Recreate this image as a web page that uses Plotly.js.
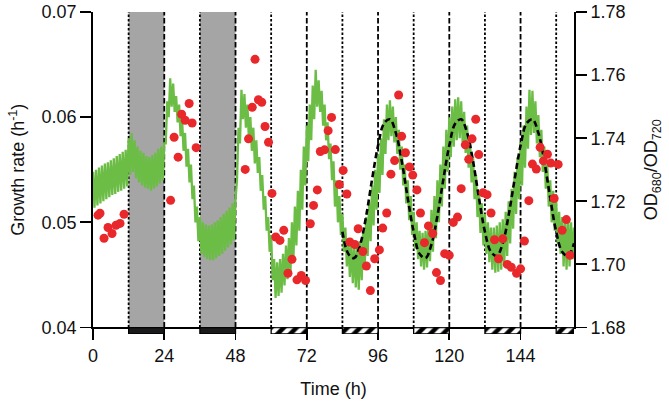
<!DOCTYPE html>
<html>
<head>
<meta charset="utf-8">
<script src="https://cdn.plot.ly/plotly-3.0.1.min.js"></script>
<style>html,body{margin:0;padding:0;background:#fff;}#chart{width:669px;height:404px;}</style>
</head>
<body>
<div id="chart"></div>
<script>
// ---- Data ----
// Growth rate trace (h^-1): upper values at whole hours, lower values at half hours (t = 0..162)
const growthHi = [
0.0548,0.0550,0.0552,0.0554,0.0556,0.0557,0.0559,0.0561,0.0563,0.0565,0.0567,0.0569,
0.0580,0.0585,0.0578,0.0572,0.0568,0.0566,0.0563,0.0562,0.0564,0.0566,0.0570,0.0572,
0.0575,0.0615,0.0637,0.0632,0.0620,0.0612,0.0598,0.0585,0.0570,0.0555,0.0535,0.0515,
0.0505,0.0500,0.0498,0.0497,0.0498,0.0500,0.0502,0.0505,0.0508,0.0511,0.0514,0.0518,
0.0522,0.0590,0.0626,0.0622,0.0612,0.0600,0.0590,0.0578,0.0562,0.0545,0.0525,0.0505,
0.0488,0.0465,0.0462,0.0465,0.0470,0.0478,0.0485,0.0500,0.0515,0.0530,0.0550,0.0572,
0.0592,0.0612,0.0630,0.0645,0.0635,0.0625,0.0612,0.0595,0.0575,0.0558,0.0540,0.0525,
0.0508,0.0495,0.0485,0.0480,0.0478,0.0478,0.0482,0.0492,0.0505,0.0520,0.0535,0.0550,
0.0565,0.0580,0.0598,0.0612,0.0616,0.0610,0.0600,0.0588,0.0572,0.0555,0.0540,0.0525,
0.0510,0.0500,0.0492,0.0490,0.0492,0.0500,0.0512,0.0525,0.0540,0.0555,0.0572,0.0588,
0.0600,0.0610,0.0617,0.0619,0.0615,0.0605,0.0592,0.0578,0.0562,0.0545,0.0530,0.0518,
0.0508,0.0500,0.0495,0.0495,0.0497,0.0500,0.0503,0.0510,0.0520,0.0532,0.0548,0.0562,
0.0576,0.0592,0.0610,0.0626,0.0625,0.0615,0.0602,0.0588,0.0572,0.0555,0.0540,0.0530,
0.0520,0.0510,0.0505,0.0503,0.0505,0.0500,0.0495
];
const growthLo = [
0.0514,0.0516,0.0518,0.0520,0.0522,0.0524,0.0526,0.0527,0.0529,0.0530,0.0532,0.0534,
0.0545,0.0548,0.0542,0.0538,0.0535,0.0533,0.0532,0.0530,0.0532,0.0534,0.0537,0.0540,
0.0575,0.0600,0.0610,0.0605,0.0595,0.0582,0.0568,0.0553,0.0538,0.0522,0.0500,0.0482,
0.0470,0.0467,0.0465,0.0464,0.0464,0.0466,0.0468,0.0470,0.0473,0.0476,0.0479,0.0483,
0.0540,0.0575,0.0598,0.0590,0.0580,0.0568,0.0556,0.0547,0.0530,0.0512,0.0492,0.0472,
0.0445,0.0428,0.0430,0.0433,0.0440,0.0446,0.0452,0.0465,0.0478,0.0492,0.0512,0.0535,
0.0558,0.0578,0.0598,0.0610,0.0605,0.0592,0.0578,0.0560,0.0540,0.0515,0.0500,0.0488,
0.0472,0.0458,0.0448,0.0442,0.0438,0.0436,0.0445,0.0455,0.0468,0.0482,0.0497,0.0512,
0.0528,0.0545,0.0565,0.0578,0.0582,0.0576,0.0565,0.0550,0.0535,0.0518,0.0502,0.0488,
0.0475,0.0465,0.0458,0.0455,0.0457,0.0463,0.0472,0.0485,0.0500,0.0515,0.0532,0.0548,
0.0562,0.0572,0.0578,0.0580,0.0576,0.0566,0.0552,0.0538,0.0522,0.0505,0.0490,0.0478,
0.0470,0.0462,0.0455,0.0452,0.0453,0.0455,0.0460,0.0468,0.0480,0.0494,0.0508,0.0522,
0.0535,0.0552,0.0570,0.0583,0.0585,0.0575,0.0562,0.0548,0.0532,0.0515,0.0500,0.0492,
0.0480,0.0470,0.0458,0.0455,0.0458,0.0465,0.0468
];

// Fitted curve (dashed), growth rate, every 2 h from 84 h to 162 h
const fitTime = [84,86,88,90,92,94,96,98,100,102,104,106,108,110,112,114,116,118,120,122,
                 124,126,128,130,132,134,136,138,140,142,144,146,148,150,152,154,156,158,160,162];
const fitValue = [0.0491,0.0470,0.0466,0.0479,0.0506,0.0541,0.0573,0.0594,0.0598,0.0585,
                  0.0558,0.0523,0.0491,0.0470,0.0466,0.0479,0.0506,0.0541,0.0573,0.0594,
                  0.0598,0.0585,0.0558,0.0523,0.0491,0.0472,0.0468,0.0480,0.0507,0.0541,
                  0.0573,0.0594,0.0598,0.0585,0.0558,0.0523,0.0491,0.0472,0.0468,0.0480];

// OD680/OD720 points
const odTime = [1.69,2.36,3.71,5.06,6.41,7.76,9.11,10.46,
  26.14,27.32,28.67,29.85,31.03,32.38,33.39,34.74,
  51.26,52.38,53.63,54.57,55.72,56.83,57.94,59.12,60.27,61.55,62.97,64.25,65.67,67.02,68.70,70.15,71.60,
  73.19,74.27,75.55,76.56,77.98,79.19,80.34,81.62,82.97,84.25,85.50,86.51,88.20,89.31,90.89,92.07,93.42,
  94.87,96.46,97.57,98.92,100.34,101.59,102.93,103.95,105.23,106.58,107.69,109.11,110.29,111.64,112.98,
  114.40,115.68,117.03,118.45,119.97,121.35,122.77,124.01,125.40,126.54,127.66,128.90,129.92,131.37,
  132.72,134.06,135.24,136.59,138.01,139.53,140.88,142.66,144.01,145.30,146.78,147.99,149.31,150.59,
  151.70,153.05,154.20,155.31,156.66,158.01,159.43,160.64];
const odValue = [1.7156,1.7162,1.7083,1.7117,1.7098,1.7124,1.7130,1.7159,
  1.7203,1.7403,1.7340,1.7476,1.7457,1.7510,1.7448,1.7370,
  1.7301,1.7398,1.7498,1.7650,1.7522,1.7514,1.7437,1.7387,1.7225,1.7087,1.7076,1.7108,1.6972,1.7016,1.6951,1.6965,1.6949,
  1.7129,1.7187,1.7236,1.7358,1.7363,1.7424,1.7466,1.7364,1.7253,1.7298,1.7223,1.7071,1.7063,1.7113,1.7041,1.6995,1.6917,
  1.7018,1.7046,1.7115,1.7163,1.7286,1.7329,1.7537,1.7406,1.7354,1.7309,1.7283,1.7236,1.7163,1.7069,1.7122,
  1.7098,1.6974,1.6949,1.7034,1.7029,1.7133,1.7150,1.7240,1.7379,1.7333,1.7398,1.7460,1.7348,1.7227,
  1.7221,1.7163,1.7078,1.7018,1.7081,1.7000,1.6991,1.6972,1.6986,1.7074,1.7202,1.7318,1.7302,1.7371,
  1.7328,1.7349,1.7321,1.7209,1.7317,1.7108,1.7142,1.7029];

// Light regime
const nightStart = [12,36,60,84,108,132,156];
const nightEnd   = [24,48,72,96,120,144,162];
const nightType  = ['dark','dark','subjective','subjective','subjective','subjective','subjective'];
const xTicks = [0,24,48,72,96,120,144];
const timeMax = 162;

// ---- Build traces ----
const zigX = [], zigY = [];
growthHi.forEach((v,i)=>{ zigX.push(i); zigY.push(v); zigX.push(i+0.5); zigY.push(growthLo[i]); });

const FONT = 'Liberation Sans, Arial, sans-serif';
const traces = [];
traces.push({x:zigX, y:zigY, type:'scatter', mode:'lines', line:{color:'#6cbd45', width:2.3}, hoverinfo:'skip'});
traces.push({x:fitTime, y:fitValue, type:'scatter', mode:'lines', line:{color:'#000', width:2.6, dash:'6px,3.5px', shape:'spline'}});
traces.push({x:odTime, y:odValue, yaxis:'y2', type:'scatter', mode:'markers', marker:{color:'#e8282b', size:9}});

function barTrace(kind){
  const xs=[], ws=[], ys=[];
  nightStart.forEach((s,i)=>{ if(nightType[i]===kind){ xs.push((s+nightEnd[i])/2); ws.push(nightEnd[i]-s); ys.push(1);} });
  const t = {x:xs, y:ys, width:ws, type:'bar', yaxis:'y3', base:0, hoverinfo:'skip',
    marker:{color: kind==='dark' ? '#1a1a1a' : '#ffffff', line:{color:'#000', width:1.3}}};
  if(kind==='subjective') t.marker.pattern = {shape:'/', fgcolor:'#000', bgcolor:'#fff', size:9, solidity:0.5, fillmode:'replace'};
  return t;
}
traces.push(barTrace('dark'));
traces.push(barTrace('subjective'));

const shapes = [];
nightStart.forEach((s,i)=>{
  if(nightType[i]==='dark'){
    shapes.push({type:'rect', xref:'x', yref:'y domain', x0:s, x1:nightEnd[i], y0:0, y1:1, fillcolor:'#a5a5a5', line:{width:0}, layer:'below'});
  }
});
nightStart.forEach((s,i)=>{
  shapes.push({type:'line', xref:'x', yref:'y domain', x0:s, x1:s, y0:0, y1:1, line:{color:'#000', width:1.8, dash:'2.5px,2px'}, layer:'below'});
  if(nightEnd[i] < timeMax){
    shapes.push({type:'line', xref:'x', yref:'y domain', x0:nightEnd[i], x1:nightEnd[i], y0:0, y1:1, line:{color:'#000', width:1.8, dash:'5.5px,2.5px'}, layer:'below'});
  }
});

const axFont = {family:FONT, size:18, color:'#111'};
const layout = {
  width:669, height:404,
  margin:{l:93, r:95, t:12, b:70, pad:0},
  paper_bgcolor:'#fff', plot_bgcolor:'rgba(0,0,0,0)',
  showlegend:false, barmode:'overlay',
  font:{family:FONT, size:18, color:'#111'},
  xaxis:{range:[0,timeMax], tickvals:xTicks, ticks:'outside', ticklen:11, tickwidth:1.8, tickcolor:'#000',
         showline:true, linewidth:1.8, linecolor:'#000', showgrid:false, zeroline:false, anchor:'y',
         tickfont:axFont, title:{text:'Time (h)', font:axFont, standoff:17}},
  yaxis:{domain:[0.0202,1], range:[0.04,0.07], dtick:0.01, tickformat:'.2f', ticks:'outside', ticklen:11, tickwidth:1.8, tickcolor:'#000',
         showline:true, linewidth:1.8, linecolor:'#000', showgrid:false, zeroline:false,
         tickfont:axFont, title:{text:'Growth rate (h<sup>-1</sup>)', font:axFont, standoff:12}},
  yaxis2:{overlaying:'y', side:'right', range:[1.68,1.78], dtick:0.02, tickformat:'.2f', ticks:'outside', ticklen:11, tickwidth:1.8, tickcolor:'#000',
         showline:true, linewidth:1.8, linecolor:'#000', showgrid:false, zeroline:false,
         tickfont:axFont, title:{text:'OD<sub>680</sub>/OD<sub>720</sub>', font:axFont, standoff:20}},
  yaxis3:{domain:[0,0.0202], range:[0,1], visible:false, fixedrange:true},
  shapes:shapes
};
Plotly.newPlot('chart', traces, layout, {staticPlot:true, displayModeBar:false});
</script>
</body>
</html>
